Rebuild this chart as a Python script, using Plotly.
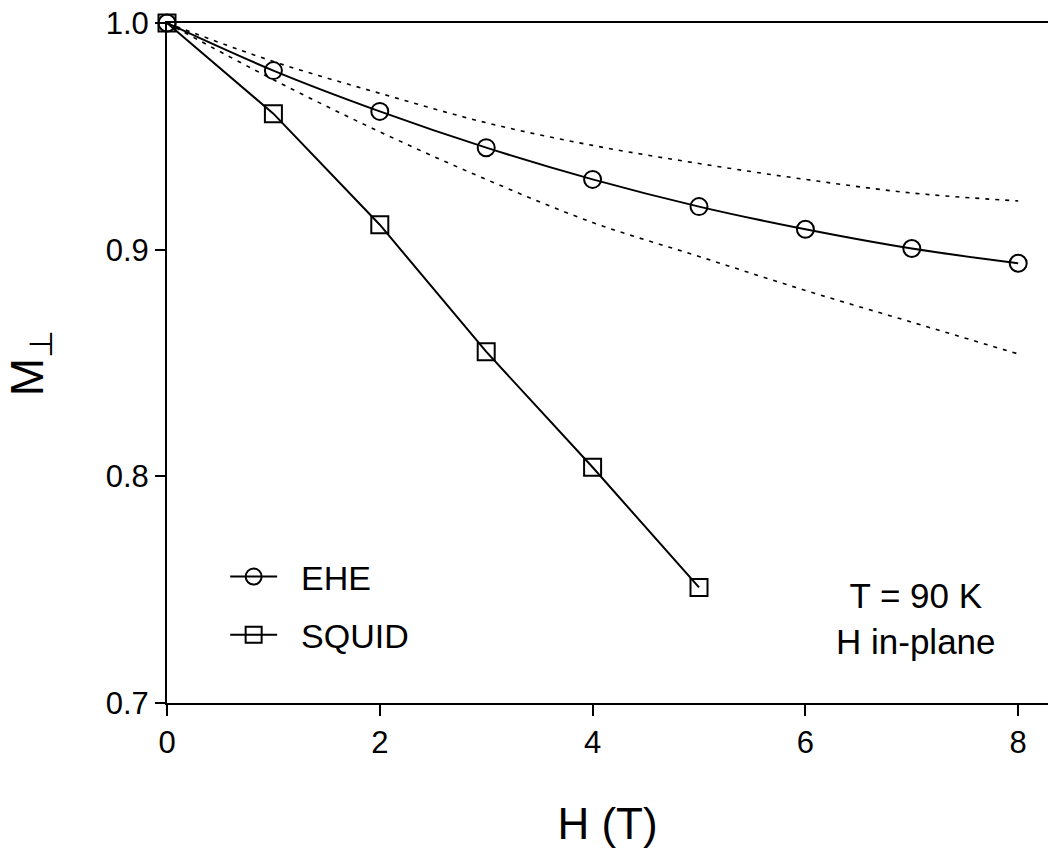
import plotly.graph_objects as go

# Data
H_ehe = [0, 1, 2, 3, 4, 5, 6, 7, 8]
M_ehe = [1.0, 0.979, 0.961, 0.945, 0.931, 0.919, 0.909, 0.9005, 0.894]

H_squid = [0, 1, 2, 3, 4, 5]
M_squid = [1.0, 0.960, 0.911, 0.855, 0.804, 0.751]

H_bound = [0, 1, 2, 3, 4, 5, 6, 7, 8]
M_upper = [1.0, 0.983, 0.969, 0.956, 0.946, 0.938, 0.931, 0.925, 0.9215]
M_lower = [1.0, 0.975, 0.952, 0.931, 0.912, 0.897, 0.882, 0.868, 0.854]

x_ticks = [0, 2, 4, 6, 8]
y_ticks = [0.7, 0.8, 0.9, 1.0]
y_ticklabels = ["0.7", "0.8", "0.9", "1.0"]

FONT = "Liberation Sans, Arial, sans-serif"
NB = "\u00a0\u00a0"

fig = go.Figure()

fig.add_trace(go.Scatter(x=H_bound, y=M_upper, mode="lines", showlegend=False,
                         line=dict(color="black", width=1.6, dash="4px,6px", shape="spline")))
fig.add_trace(go.Scatter(x=H_bound, y=M_lower, mode="lines", showlegend=False,
                         line=dict(color="black", width=1.6, dash="4px,6px", shape="spline")))

fig.add_trace(go.Scatter(x=H_ehe, y=M_ehe, mode="lines+markers", name=NB + "EHE",
                         legendgroup="a", cliponaxis=False,
                         line=dict(color="black", width=2, shape="spline"),
                         marker=dict(symbol="circle-open", size=17, color="black",
                                     line=dict(width=2, color="black"))))
fig.add_trace(go.Scatter(x=H_squid, y=M_squid, mode="lines+markers", name=NB + "SQUID",
                         legendgroup="b", cliponaxis=False,
                         line=dict(color="black", width=2),
                         marker=dict(symbol="square-open", size=17, color="black",
                                     line=dict(width=2, color="black"))))

fig.add_annotation(x=0.850, y=0.125, xref="paper", yref="paper",
                   xanchor="center", yanchor="middle",
                   text="T = 90 K<br>H in-plane", showarrow=False, align="center",
                   font=dict(family=FONT, size=35, color="black"))

fig.update_layout(
    width=1048, height=848,
    margin=dict(l=167, r=0, t=23, b=145),
    paper_bgcolor="white", plot_bgcolor="white",
    font=dict(family=FONT, color="black"),
    legend=dict(x=0.066, y=0.228, xanchor="left", yanchor="top",
                bgcolor="rgba(0,0,0,0)", font=dict(family=FONT, size=34),
                tracegroupgap=11, itemwidth=47),
    xaxis=dict(range=[0, 8.28], tickvals=x_ticks, ticks="outside", ticklen=11,
               tickwidth=1.5, tickcolor="black", showline=True, linewidth=2,
               linecolor="black", mirror=True, showgrid=False, zeroline=False,
               tickfont=dict(family=FONT, size=31),
               title=dict(text="H (T)", font=dict(family=FONT, size=44), standoff=50)),
    yaxis=dict(range=[0.7, 1.0], tickvals=y_ticks, ticktext=y_ticklabels,
               ticks="outside", ticklen=10, tickwidth=1.5, tickcolor="black",
               showline=True, linewidth=2, linecolor="black", showgrid=False,
               zeroline=False, tickfont=dict(family=FONT, size=31),
               title=dict(text="M<sub>⊥</sub>", font=dict(family=FONT, size=46), standoff=48)),
)

fig.write_html("out.html")
